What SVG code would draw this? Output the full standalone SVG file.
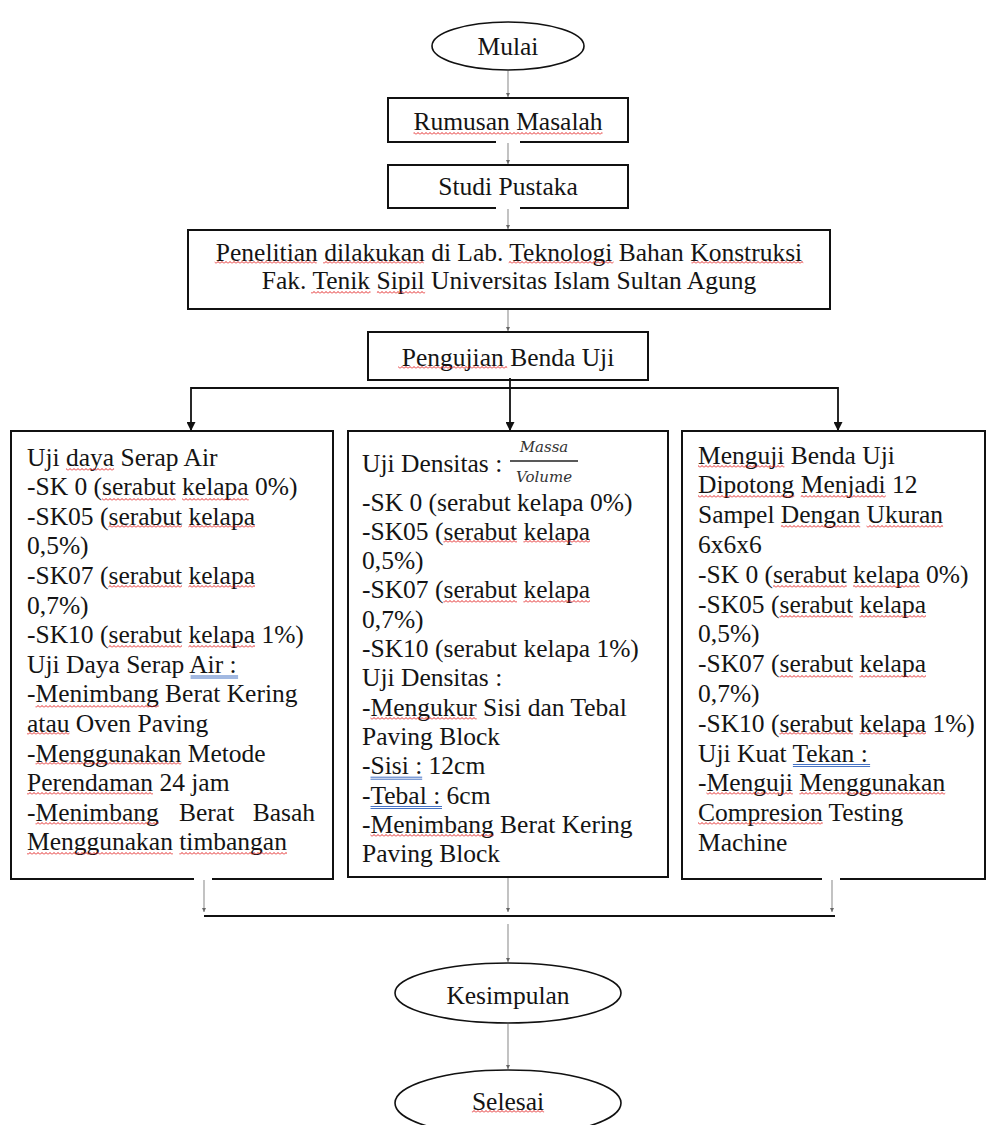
<svg xmlns="http://www.w3.org/2000/svg" width="988" height="1125" viewBox="0 0 988 1125">
<style>
.t{font-family:'Liberation Serif',serif;font-size:25.5px;fill:#141414}
.c{text-anchor:middle}
.box{fill:#fff;stroke:#111;stroke-width:2}
.ell{fill:#fff;stroke:#111;stroke-width:1.6}
.gl{stroke:#9a9a9a;stroke-width:1.2;fill:none}
.bl{stroke:#111;stroke-width:1.8;fill:none}
.sq{fill:url(#wave)}
.du{stroke:#4472c4;stroke-width:1}
.fr{font-family:'DejaVu Serif','Liberation Serif',serif;font-style:italic;font-size:15px;fill:#333;text-anchor:middle}
</style>
<defs>
<pattern id="wave" x="0" y="0" width="4" height="3" patternUnits="userSpaceOnUse">
<path d="M0,2.5 L2,0.5 L4,2.5" fill="none" stroke="#e01010" stroke-width="0.9"/>
</pattern>
<marker id="ga" viewBox="0 0 10 10" refX="10" refY="5" markerWidth="6" markerHeight="4" markerUnits="userSpaceOnUse" orient="auto">
<path d="M0,0 L10,5 L0,10 z" fill="#666"/>
</marker>
<marker id="ba" viewBox="0 0 10 10" refX="10" refY="5" markerWidth="12" markerHeight="9" markerUnits="userSpaceOnUse" orient="auto">
<path d="M0,0 L10,5 L0,10 z" fill="#111"/>
</marker>
</defs>
<rect width="988" height="1125" fill="#fff"/>

<g id="mulai">
<ellipse class="ell" cx="508" cy="46" rx="76" ry="24"/>
<text class="t c" x="508" y="54.5" font-family="Liberation Serif, serif">Mulai</text>
</g>

<g id="rumusan">
<rect class="box" x="388" y="98" width="240" height="44"/>
<text class="t c" x="508" y="130">Rumusan Masalah</text>
<rect class="sq" x="413.5" y="132" width="189" height="3"/>
</g>

<g id="studi">
<rect class="box" x="388" y="165" width="240" height="43"/>
<text class="t c" x="508" y="195">Studi Pustaka</text>
</g>

<g id="penelitian">
<rect class="box" x="188" y="230" width="642" height="79"/>
<text class="t c" x="509" y="260.5">Penelitian dilakukan di Lab. Teknologi Bahan Konstruksi</text>
<text class="t c" x="509" y="289">Fak. Tenik Sipil Universitas Islam Sultan Agung</text>
<rect class="sq" x="214.7" y="261" width="102" height="3"/>
<rect class="sq" x="323.1" y="261" width="100.6" height="3"/>
<rect class="sq" x="508.7" y="261" width="104.8" height="3"/>
<rect class="sq" x="691.4" y="261" width="111.9" height="3"/>
<rect class="sq" x="311" y="291" width="59.5" height="3"/>
<rect class="sq" x="376.9" y="291" width="48.2" height="3"/>
</g>

<g id="pengujian">
<rect class="box" x="368" y="332" width="280" height="48"/>
<text class="t c" x="508" y="365.5">Pengujian Benda Uji</text>
<rect class="sq" x="398.2" y="366" width="109" height="3"/>
</g>

<g id="uji-serap">
<rect class="box" x="11" y="431" width="322" height="448"/>
<text class="t" x="27" y="465.5">Uji daya Serap Air</text>
<text class="t" x="27" y="495.1">-SK 0 (serabut kelapa 0%)</text>
<text class="t" x="27" y="524.7">-SK05 (serabut kelapa</text>
<text class="t" x="27" y="554.3">0,5%)</text>
<text class="t" x="27" y="583.9">-SK07 (serabut kelapa</text>
<text class="t" x="27" y="613.5">0,7%)</text>
<text class="t" x="27" y="643.1">-SK10 (serabut kelapa 1%)</text>
<text class="t" x="27" y="672.7">Uji Daya Serap Air :</text>
<text class="t" x="27" y="702.3">-Menimbang Berat Kering</text>
<text class="t" x="27" y="731.9">atau Oven Paving</text>
<text class="t" x="27" y="761.5">-Menggunakan Metode</text>
<text class="t" x="27" y="791.1">Perendaman 24 jam</text>
<text class="t" y="820.7"><tspan x="27">-Menimbang</tspan><tspan x="179">Berat</tspan><tspan x="252.7">Basah</tspan></text>
<text class="t" x="27" y="850.3">Menggunakan timbangan</text>
<rect class="sq" x="66" y="468" width="48.1" height="3"/>
<rect class="sq" x="102.1" y="498" width="73.6" height="3"/>
<rect class="sq" x="182.1" y="498" width="66.6" height="3"/>
<rect class="sq" x="108.4" y="525" width="73.6" height="3"/>
<rect class="sq" x="188.4" y="525" width="66.6" height="3"/>
<rect class="sq" x="108.4" y="585" width="73.6" height="3"/>
<rect class="sq" x="188.4" y="585" width="66.6" height="3"/>
<rect class="sq" x="108.4" y="645" width="73.6" height="3"/>
<rect class="sq" x="188.4" y="645" width="66.6" height="3"/>
<line class="du" x1="190.6" y1="676" x2="238.1" y2="676"/>
<line class="du" x1="190.6" y1="678" x2="238.1" y2="678"/>
<rect class="sq" x="35.5" y="705" width="123.2" height="3"/>
<rect class="sq" x="27" y="732" width="42.5" height="3"/>
<rect class="sq" x="35.5" y="762" width="145.9" height="3"/>
<rect class="sq" x="27" y="792" width="126" height="3"/>
<rect class="sq" x="35.5" y="822" width="123.2" height="3"/>
<rect class="sq" x="27" y="852" width="145.9" height="3"/>
<rect class="sq" x="179.3" y="852" width="107.7" height="3"/>
</g>

<g id="uji-densitas">
<rect class="box" x="348" y="431" width="320" height="446"/>
<text class="t" x="362" y="471.5">Uji Densitas : </text>
<text class="fr" x="544" y="452">Massa</text>
<line x1="510" y1="461" x2="578" y2="461" stroke="#222" stroke-width="1.3"/>
<text class="fr" x="544" y="482">Volume</text>
<text class="t" x="362" y="510.5">-SK 0 (serabut kelapa 0%)</text>
<text class="t" x="362" y="539.8">-SK05 (serabut kelapa</text>
<text class="t" x="362" y="569.1">0,5%)</text>
<text class="t" x="362" y="598.4">-SK07 (serabut kelapa</text>
<text class="t" x="362" y="627.7">0,7%)</text>
<text class="t" x="362" y="657">-SK10 (serabut kelapa 1%)</text>
<text class="t" x="362" y="686.3">Uji Densitas :</text>
<text class="t" x="362" y="715.6">-Mengukur Sisi dan Tebal</text>
<text class="t" x="362" y="744.9">Paving Block</text>
<text class="t" x="362" y="774.2">-Sisi : 12cm</text>
<text class="t" x="362" y="803.5">-Tebal : 6cm</text>
<text class="t" x="362" y="832.8">-Menimbang Berat Kering</text>
<text class="t" x="362" y="862.1">Paving Block</text>
<rect class="sq" x="443.4" y="540" width="73.6" height="3"/>
<rect class="sq" x="523.4" y="540" width="66.6" height="3"/>
<rect class="sq" x="443.4" y="600" width="73.6" height="3"/>
<rect class="sq" x="523.4" y="600" width="66.6" height="3"/>
<rect class="sq" x="370.5" y="717" width="106.2" height="3"/>
<line class="du" x1="370.5" y1="777.2" x2="422.2" y2="777.2"/>
<line class="du" x1="370.5" y1="779.2" x2="422.2" y2="779.2"/>
<line class="du" x1="370.5" y1="806.5" x2="442" y2="806.5"/>
<line class="du" x1="370.5" y1="808.5" x2="442" y2="808.5"/>
<rect class="sq" x="370.5" y="834" width="123.2" height="3"/>
</g>

<g id="uji-tekan">
<rect class="box" x="682" y="431" width="303" height="448"/>
<text class="t" x="698" y="463.5">Menguji Benda Uji</text>
<text class="t" x="698" y="493.3">Dipotong Menjadi 12</text>
<text class="t" x="698" y="523.1">Sampel Dengan Ukuran</text>
<text class="t" x="698" y="552.9">6x6x6</text>
<text class="t" x="698" y="582.7">-SK 0 (serabut kelapa 0%)</text>
<text class="t" x="698" y="612.5">-SK05 (serabut kelapa</text>
<text class="t" x="698" y="642.3">0,5%)</text>
<text class="t" x="698" y="672.1">-SK07 (serabut kelapa</text>
<text class="t" x="698" y="701.9">0,7%)</text>
<text class="t" x="698" y="731.7">-SK10 (serabut kelapa 1%)</text>
<text class="t" x="698" y="761.5">Uji Kuat Tekan :</text>
<text class="t" x="698" y="791.3">-Menguji Menggunakan</text>
<text class="t" x="698" y="821.1">Compresion Testing</text>
<text class="t" x="698" y="850.9">Machine</text>
<rect class="sq" x="698" y="465" width="86.4" height="3"/>
<rect class="sq" x="698" y="495" width="96.3" height="3"/>
<rect class="sq" x="800.7" y="495" width="85" height="3"/>
<rect class="sq" x="780.9" y="525" width="79.3" height="3"/>
<rect class="sq" x="866.6" y="525" width="76.5" height="3"/>
<rect class="sq" x="773.1" y="585" width="73.6" height="3"/>
<rect class="sq" x="853.1" y="585" width="66.6" height="3"/>
<rect class="sq" x="779.4" y="615" width="73.6" height="3"/>
<rect class="sq" x="859.4" y="615" width="66.6" height="3"/>
<rect class="sq" x="779.4" y="675" width="73.6" height="3"/>
<rect class="sq" x="859.4" y="675" width="66.6" height="3"/>
<rect class="sq" x="779.4" y="732" width="73.6" height="3"/>
<rect class="sq" x="859.4" y="732" width="66.6" height="3"/>
<line class="du" x1="792.9" y1="764.5" x2="870.1" y2="764.5"/>
<line class="du" x1="792.9" y1="766.5" x2="870.1" y2="766.5"/>
<rect class="sq" x="706.5" y="792" width="86.4" height="3"/>
<rect class="sq" x="799.3" y="792" width="145.9" height="3"/>
<rect class="sq" x="698" y="822" width="124.7" height="3"/>
</g>

<g id="kesimpulan">
<ellipse class="ell" cx="508" cy="993" rx="113" ry="30"/>
<text class="t c" x="508" y="1003.5">Kesimpulan</text>
</g>

<g id="selesai">
<ellipse class="ell" cx="508" cy="1103" rx="113" ry="33"/>
<text class="t c" x="508" y="1110">Selesai</text>
<rect class="sq" x="471.9" y="1110" width="72.2" height="3"/>
</g>

<g id="connectors">
<rect x="496" y="140" width="24" height="4" fill="#fff"/>
<rect x="496" y="206" width="24" height="4" fill="#fff"/>
<rect x="194" y="877" width="18" height="4" fill="#fff"/>
<rect x="822" y="877" width="18" height="4" fill="#fff"/>
<line class="gl" x1="508" y1="71" x2="508" y2="97" marker-end="url(#ga)"/>
<line class="gl" x1="508" y1="143" x2="508" y2="164" marker-end="url(#ga)"/>
<line class="gl" x1="508" y1="209" x2="508" y2="229" marker-end="url(#ga)"/>
<line class="gl" x1="508" y1="310" x2="508" y2="331" marker-end="url(#ga)"/>
<line class="bl" x1="510" y1="378" x2="510" y2="431" marker-end="url(#ba)"/>
<line class="bl" x1="191" y1="388" x2="838" y2="388"/>
<line class="bl" x1="191" y1="387.1" x2="191" y2="431" marker-end="url(#ba)"/>
<line class="bl" x1="838" y1="387.1" x2="838" y2="431" marker-end="url(#ba)"/>
<line class="gl" x1="204" y1="880" x2="204" y2="912" marker-end="url(#ga)"/>
<line class="gl" x1="508" y1="878" x2="508" y2="912" marker-end="url(#ga)"/>
<line class="gl" x1="832" y1="880" x2="832" y2="912" marker-end="url(#ga)"/>
<line class="bl" x1="204" y1="916" x2="835" y2="916"/>
<line class="gl" x1="508" y1="924" x2="508" y2="962" marker-end="url(#ga)"/>
<line class="gl" x1="508" y1="1024" x2="508" y2="1069" marker-end="url(#ga)"/>
</g>
</svg>
